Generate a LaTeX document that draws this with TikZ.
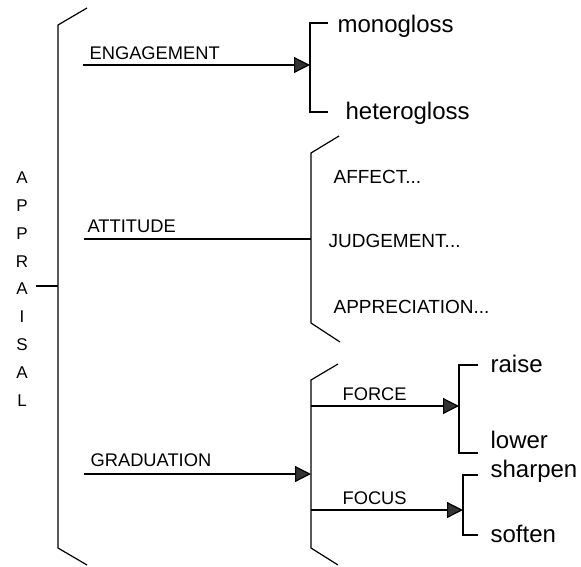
\documentclass[tikz,border=0pt]{standalone}
\usepackage{fontspec}
\setmainfont{Liberation Sans}
\usetikzlibrary{arrows.meta}
\begin{document}
\begin{tikzpicture}[x=1pt,y=-1pt,
  line width=1.2pt,
  lbl/.style={anchor=base west,inner sep=0pt,font=\fontsize{18.3}{20}\selectfont},
  sublbl/.style={lbl,font=\fontsize{19}{21}\selectfont},
  leaf/.style={anchor=base west,inner sep=0pt,font=\fontsize{24}{26}\selectfont},
  arr/.style={-{Triangle[length=16pt,width=16pt,fill=black!80]}},
  bracket/.style={line join=miter},
]
\useasboundingbox (0,0) rectangle (581,566);

% system name, written vertically
\node[inner sep=0pt,align=center,font=\fontsize{17}{27.8}\selectfont] (appraisal) at (22,289)
  {A\\P\\P\\R\\A\\I\\S\\A\\L};

% main bracket
\coordinate (mT) at (58,25);
\coordinate (mB) at (58,548);
\coordinate (mMid) at (58,286);
\coordinate (apTick) at (36,286);
\draw[bracket] (87,8) -- (mT) -- (mB) -- (87,565);
\draw (apTick) -- (mMid);

% ENGAGEMENT
\node[lbl] (eng) at (89,59) {ENGAGEMENT};
\coordinate (engS) at (83,65);
\coordinate (engE) at (310,65);
\draw[arr] (engS) -- (engE);
\draw[bracket] (328,23) -- (310,23) -- (310,112) -- (328,112);
\node[leaf] (mono) at (337,32) {monogloss};
\node[leaf] (hetero) at (345,119) {heterogloss};

% ATTITUDE
\node[lbl] (att) at (87,232) {ATTITUDE};
\coordinate (attS) at (84,239);
\coordinate (attE) at (311,239);
\draw (attS) -- (attE);
\draw[bracket] (339,136) -- (311,153) -- (311,323) -- (340,342);
\node[sublbl] (affect) at (333,183) {AFFECT...};
\node[sublbl] (judge) at (328,247) {JUDGEMENT...};
\node[sublbl] (apprec) at (333,313) {APPRECIATION...};

% GRADUATION
\node[lbl] (grad) at (90,466) {GRADUATION};
\coordinate (gradS) at (84,474);
\coordinate (gradE) at (311,474);
\draw[arr] (gradS) -- (gradE);
\draw[bracket] (338,364) -- (311,380) -- (311,548) -- (338,565);

% FORCE
\node[lbl] (force) at (342,400) {FORCE};
\coordinate (forS) at (311,406);
\coordinate (forE) at (459,406);
\draw[arr] (forS) -- (forE);
\draw[bracket] (478,365) -- (459,365) -- (459,453) -- (478,453);
\node[leaf] (raise) at (490,372) {raise};
\node[leaf] (lower) at (490,448) {lower};

% FOCUS
\node[lbl] (focus) at (342,504) {FOCUS};
\coordinate (focS) at (311,510);
\coordinate (focE) at (463,510);
\draw[arr] (focS) -- (focE);
\draw[bracket] (478,475) -- (463,475) -- (463,535) -- (478,535);
\node[leaf] (sharpen) at (490,477) {sharpen};
\node[leaf] (soften) at (490,542) {soften};
\end{tikzpicture}
\end{document}
